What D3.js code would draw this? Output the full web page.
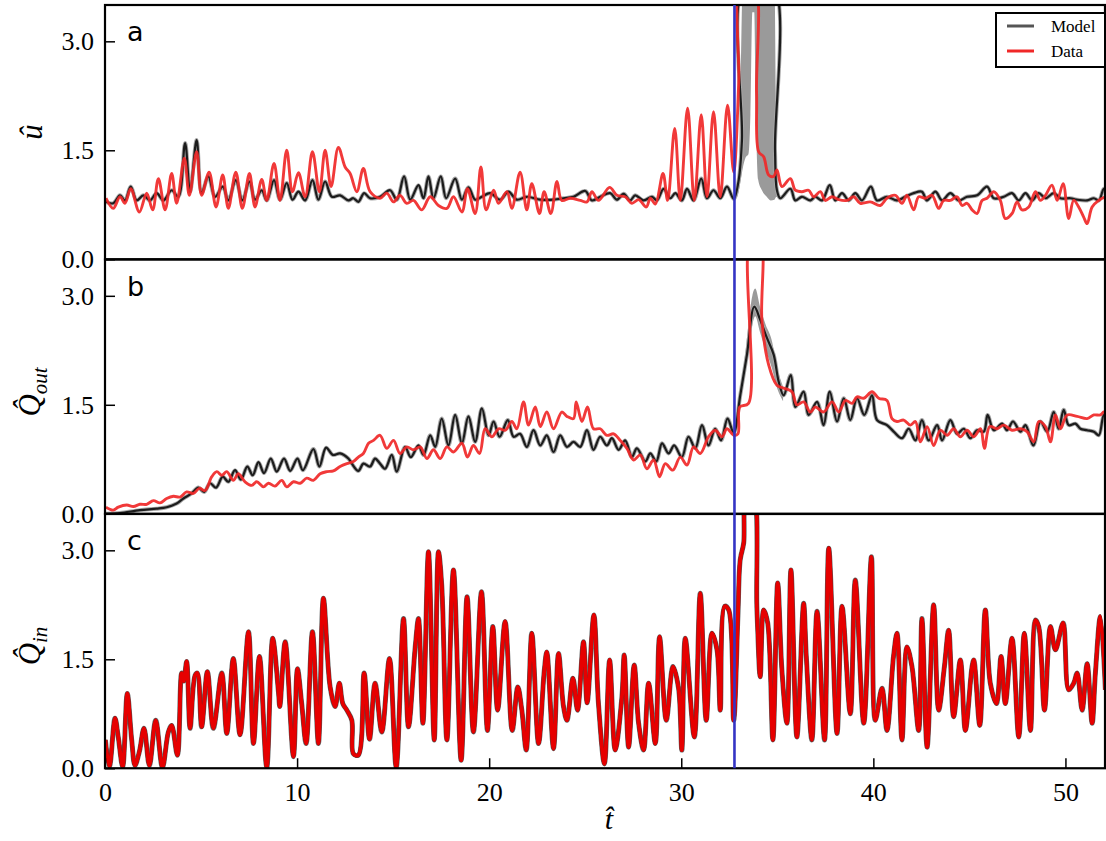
<!DOCTYPE html>
<html>
<head>
<meta charset="utf-8">
<script src="https://cdn.jsdelivr.net/npm/d3@7"></script>
<style>
  body { margin: 0; background: #fff; }
  svg { display: block; }
</style>
</head>
<body>
<svg id="chart" width="1106" height="841"></svg>
<script>
// ---- Tick labels, legend and panel labels ----
const tickValuesY = [0, 1.5, 3.0];
const tickValuesT = [0, 10, 20, 30, 40, 50];
const legendLabels = ["Model", "Data"];
const panelLetters = ["a", "b", "c"];
const onsetT = 32.77;   // marked event time (vertical line)

// ---- Panel a: velocity u-hat, [t, value] ----
const uModel = [[0.05,0.79],[0.43,0.77],[0.78,0.88],[1.04,0.81],[1.34,1.0],[1.65,0.81],[2.0,0.88],[2.34,0.81],[2.69,0.91],[3.04,0.81],[3.47,0.95],[3.82,0.86],[4.17,1.6],[4.43,0.93],[4.77,1.64],[5.03,0.91],[5.38,1.14],[5.73,0.86],[6.13,1.0],[6.42,0.81],[6.81,1.09],[7.15,0.81],[7.52,1.07],[7.81,0.82],[8.16,0.95],[8.42,0.81],[8.8,1.09],[9.11,0.82],[9.46,1.05],[9.76,0.82],[10.07,0.93],[10.42,0.81],[10.8,1.09],[11.11,0.82],[11.46,1.07],[11.81,0.86],[12.24,0.88],[12.67,0.81],[12.93,0.84],[13.19,0.79],[13.49,0.91],[13.8,0.84],[14.32,0.86],[14.84,0.95],[15.19,0.82],[15.57,1.14],[15.89,0.82],[16.32,1.02],[16.58,0.84],[16.84,1.14],[17.1,0.84],[17.48,1.14],[17.76,0.84],[18.23,1.11],[18.58,0.82],[18.92,0.99],[19.27,0.82],[19.62,0.86],[20.05,0.91],[20.57,0.82],[21.0,0.93],[21.44,0.82],[21.96,0.86],[22.66,0.82],[23.35,0.82],[23.87,0.84],[24.39,0.86],[25.0,0.94],[25.35,0.81],[25.78,0.86],[26.3,0.91],[26.65,0.82],[27.0,0.9],[27.34,0.81],[27.6,0.88],[28.04,0.81],[28.48,0.86],[28.73,0.81],[29.08,0.97],[29.43,0.84],[29.69,0.91],[30.03,0.81],[30.3,0.97],[30.64,0.81],[31.04,1.11],[31.34,0.84],[31.68,0.95],[32.03,0.84],[32.38,1.0],[32.73,0.83],[32.99,1.09],[33.16,1.64],[33.3,3.8],[34.75,3.8],[34.88,1.5],[34.98,0.95],[35.16,0.84],[35.68,0.97],[35.94,0.81],[36.28,0.86],[36.72,0.81],[36.98,0.86],[37.33,0.81],[37.73,1.02],[38.02,0.81],[38.37,0.91],[38.72,0.81],[39.06,0.91],[39.41,0.81],[39.87,1.0],[40.19,0.81],[40.71,0.86],[41.23,0.81],[41.66,0.86],[42.1,0.91],[42.53,0.93],[42.79,0.81],[43.23,0.93],[43.58,0.81],[44.01,0.91],[44.44,0.81],[44.88,0.86],[45.4,0.88],[45.92,1.0],[46.27,0.84],[46.79,0.86],[47.22,0.91],[47.57,0.81],[47.92,0.91],[48.26,0.81],[48.61,0.91],[48.96,0.84],[49.39,0.91],[49.74,0.84],[50.26,0.84],[50.6,0.82],[51.13,0.81],[51.48,0.84],[51.74,0.81],[52.0,0.97],[52.17,0.91]];

const uData = [[0.05,0.84],[0.43,0.7],[0.78,0.86],[1.04,0.77],[1.34,0.97],[1.79,0.65],[2.17,0.91],[2.48,0.68],[2.78,1.11],[3.13,0.68],[3.47,1.18],[3.73,0.77],[4.13,1.39],[4.39,0.88],[4.77,1.48],[5.03,0.88],[5.42,1.2],[5.78,0.72],[6.13,1.16],[6.42,0.7],[6.81,1.2],[7.15,0.7],[7.52,1.18],[7.81,0.72],[8.16,1.1],[8.42,0.81],[8.8,1.32],[9.11,0.81],[9.46,1.5],[9.76,0.93],[10.07,1.19],[10.42,0.86],[10.8,1.48],[11.16,0.93],[11.46,1.5],[11.77,1.0],[12.15,1.54],[12.5,1.27],[12.76,1.18],[13.11,0.93],[13.45,1.25],[13.8,0.93],[14.32,0.84],[14.67,0.91],[15.02,0.79],[15.36,0.88],[15.71,0.77],[16.06,0.81],[16.49,0.68],[16.93,0.86],[17.36,0.74],[17.8,0.7],[18.14,0.86],[18.58,0.65],[18.87,0.97],[19.27,0.63],[19.57,1.27],[19.84,0.68],[20.23,0.95],[20.49,0.77],[20.92,0.93],[21.18,0.7],[21.61,1.2],[21.96,0.68],[22.22,1.04],[22.62,0.63],[22.86,0.93],[23.21,0.63],[23.53,1.07],[23.78,0.81],[24.22,0.84],[24.74,0.81],[25.09,0.79],[25.35,0.93],[25.69,0.81],[26.27,0.99],[26.65,0.88],[27.08,0.86],[27.43,0.77],[27.78,0.82],[28.18,0.72],[28.39,0.84],[28.65,0.76],[29.05,1.18],[29.29,0.81],[29.66,1.8],[29.95,0.81],[30.33,2.08],[30.68,0.81],[31.04,1.99],[31.34,0.86],[31.68,2.03],[32.03,0.86],[32.41,2.12],[32.73,1.2],[32.99,2.42],[33.12,3.8],[33.78,3.8],[33.92,2.3],[34.03,1.48],[34.29,1.41],[34.55,1.16],[34.81,1.14],[34.98,1.23],[35.24,1.0],[35.68,1.11],[35.94,0.95],[36.28,0.93],[36.63,0.95],[36.89,0.86],[37.24,0.93],[37.5,0.81],[37.85,0.86],[38.2,0.82],[38.63,0.81],[38.98,0.86],[39.32,0.77],[39.84,0.79],[40.36,0.74],[40.71,0.84],[41.15,0.88],[41.49,0.77],[41.75,0.88],[42.1,0.68],[42.36,0.86],[42.71,0.84],[43.06,0.88],[43.4,0.7],[43.66,0.81],[44.01,0.81],[44.36,0.86],[44.62,0.74],[44.88,0.77],[45.14,0.68],[45.4,0.63],[45.66,0.81],[45.92,0.84],[46.27,0.93],[46.61,0.81],[46.87,0.56],[47.22,0.63],[47.48,0.79],[47.74,0.68],[48.09,0.72],[48.44,0.93],[48.7,0.81],[48.96,0.88],[49.3,1.02],[49.57,0.81],[49.88,1.04],[50.17,0.56],[50.43,0.81],[50.69,0.72],[50.95,0.58],[51.13,0.49],[51.39,0.72],[51.74,0.81],[52.08,0.86]];

// model spread around the surge: [t, low, high]
const uBand = [[32.88,0.84,0.9],[33.0,0.95,1.3],[33.1,1.1,2.6],[33.2,1.25,3.8],[33.35,1.4,3.8],[33.5,1.45,3.8],[33.6,2.0,3.8],[33.7,3.4,3.8],[33.8,3.4,3.8],[33.9,1.8,3.8],[34.0,1.1,3.8],[34.2,0.95,3.8],[34.45,0.86,3.8],[34.65,0.81,3.8],[34.85,0.82,3.8],[34.95,0.86,1.6],[35.05,0.84,0.95]];

// ---- Panel b: outflow Q-hat_out ----
const qOutModel = [[0.05,0.0],[0.78,0.01],[1.82,0.05],[2.69,0.07],[3.21,0.09],[3.73,0.14],[4.08,0.21],[4.51,0.28],[4.86,0.36],[5.16,0.30],[5.47,0.42],[5.78,0.36],[6.13,0.51],[6.42,0.44],[6.77,0.6],[7.07,0.47],[7.41,0.65],[7.69,0.53],[7.99,0.71],[8.28,0.56],[8.63,0.76],[8.94,0.58],[9.32,0.76],[9.64,0.59],[10.02,0.76],[10.3,0.6],[10.85,0.89],[11.16,0.65],[11.51,0.91],[11.86,0.81],[12.24,0.83],[12.67,0.76],[12.85,0.69],[13.19,0.59],[13.45,0.69],[13.8,0.65],[14.06,0.76],[14.32,0.69],[14.58,0.62],[14.93,0.81],[15.19,0.58],[15.62,0.92],[15.92,0.78],[16.32,0.94],[16.58,0.81],[16.93,1.08],[17.19,0.92],[17.53,1.31],[17.88,0.94],[18.23,1.36],[18.58,0.97],[18.92,1.34],[19.27,0.99],[19.62,1.45],[19.97,1.08],[20.23,1.27],[20.54,1.06],[20.97,1.29],[21.27,1.06],[21.61,1.1],[21.96,0.92],[22.31,1.15],[22.66,0.94],[23.0,1.08],[23.35,0.85],[23.7,1.08],[24.05,0.92],[24.39,0.99],[24.74,0.92],[25.09,1.15],[25.43,0.88],[25.78,1.06],[26.13,0.94],[26.39,1.04],[26.74,0.88],[27.08,1.01],[27.43,0.78],[27.69,0.9],[28.13,0.72],[28.39,0.83],[28.7,0.72],[29.0,0.97],[29.34,0.83],[29.63,0.94],[30.03,0.78],[30.38,1.06],[30.73,0.9],[31.08,1.22],[31.42,0.94],[31.77,1.17],[32.07,1.01],[32.41,1.31],[32.73,1.11],[33.07,1.63],[33.42,2.19],[33.8,2.85],[34.11,2.67],[34.46,2.42],[34.81,2.19],[35.07,1.82],[35.33,1.63],[35.7,1.91],[35.94,1.47],[36.37,1.68],[36.63,1.36],[37.07,1.54],[37.41,1.22],[37.73,1.68],[38.11,1.27],[38.46,1.59],[38.8,1.29],[39.15,1.59],[39.53,1.36],[39.93,1.63],[40.19,1.29],[40.71,1.22],[41.06,1.13],[41.49,1.04],[41.84,1.17],[42.19,1.01],[42.53,1.29],[42.88,1.01],[43.32,1.22],[43.58,1.01],[44.01,1.29],[44.36,1.1],[44.71,1.17],[45.05,1.04],[45.4,1.15],[45.75,1.13],[45.95,1.36],[46.27,1.15],[46.7,1.24],[46.96,1.15],[47.27,1.27],[47.66,1.13],[47.92,1.22],[48.33,0.94],[48.7,1.27],[49.05,1.13],[49.39,1.4],[49.65,1.17],[49.91,1.43],[50.17,1.22],[50.52,1.24],[50.78,1.17],[51.13,1.15],[51.48,1.13],[51.74,1.08],[52.0,1.36],[52.17,1.31]];

const qOutData = [[0.05,0.09],[0.43,0.05],[0.69,0.09],[1.13,0.12],[1.48,0.1],[1.82,0.13],[2.17,0.13],[2.52,0.18],[2.86,0.15],[3.21,0.21],[3.56,0.24],[3.91,0.23],[4.25,0.3],[4.6,0.28],[4.91,0.35],[5.21,0.32],[5.56,0.51],[5.82,0.58],[6.08,0.53],[6.34,0.58],[6.68,0.46],[6.94,0.55],[7.29,0.44],[7.64,0.39],[7.9,0.44],[8.25,0.37],[8.51,0.42],[8.85,0.38],[9.2,0.46],[9.46,0.37],[9.81,0.44],[10.16,0.42],[10.5,0.49],[10.85,0.46],[11.2,0.55],[11.55,0.58],[11.89,0.59],[12.24,0.65],[12.59,0.69],[12.93,0.72],[13.19,0.78],[13.45,0.83],[13.72,0.97],[13.98,1.01],[14.32,1.08],[14.67,0.9],[15.02,1.01],[15.36,0.83],[15.71,0.92],[16.06,0.88],[16.41,0.92],[16.76,0.76],[17.1,0.88],[17.45,0.76],[17.8,0.92],[18.14,0.85],[18.58,0.97],[18.87,0.78],[19.18,0.94],[19.5,0.83],[19.79,1.17],[20.14,1.06],[20.49,1.17],[20.84,1.15],[21.18,1.27],[21.44,1.17],[21.79,1.54],[22.05,1.22],[22.4,1.47],[22.66,1.2],[23.0,1.4],[23.35,1.17],[23.78,1.4],[24.05,1.34],[24.39,1.31],[24.53,1.54],[24.83,1.27],[25.12,1.47],[25.43,1.17],[25.78,1.17],[26.13,1.08],[26.48,1.1],[26.82,1.01],[27.17,0.9],[27.52,0.74],[27.87,0.81],[28.21,0.62],[28.56,0.74],[28.87,0.51],[29.17,0.69],[29.56,0.6],[29.95,0.78],[30.3,0.67],[30.64,0.92],[30.99,0.83],[31.42,1.06],[31.77,1.15],[32.12,1.06],[32.38,1.17],[32.73,1.08],[32.95,1.1],[33.05,1.47],[33.5,1.52],[33.62,3.8],[34.1,3.8],[34.2,2.65],[34.55,2.05],[34.98,1.77],[35.33,1.73],[35.76,1.68],[36.02,1.5],[36.37,1.54],[36.72,1.4],[36.98,1.47],[37.41,1.4],[37.85,1.54],[38.2,1.4],[38.55,1.56],[38.89,1.52],[39.15,1.61],[39.5,1.59],[39.93,1.68],[40.28,1.59],[40.71,1.56],[40.97,1.31],[41.23,1.27],[41.58,1.29],[41.93,1.22],[42.19,1.27],[42.45,0.99],[42.8,1.2],[43.14,0.94],[43.49,1.15],[43.84,1.08],[44.18,1.17],[44.53,1.06],[44.88,1.15],[45.23,1.06],[45.58,1.17],[45.78,0.9],[46.06,1.2],[46.44,1.17],[46.79,1.22],[47.22,1.15],[47.66,1.17],[48.0,1.13],[48.35,0.99],[48.61,1.27],[48.96,1.2],[49.22,0.99],[49.48,1.36],[49.74,1.17],[50.09,1.36],[50.61,1.34],[51.13,1.31],[51.48,1.36],[51.82,1.36],[52.0,1.4],[52.17,1.38]];

const qOutBand = [[33.1,1.55,1.72],[33.4,2.05,2.35],[33.7,2.6,3.0],[33.85,2.72,3.1],[34.1,2.5,2.85],[34.4,2.25,2.6],[34.7,2.02,2.4],[35.0,1.72,2.0],[35.3,1.55,1.75]];

// ---- Panel c: inflow Q-hat_in ----
const qInData = [[0.02,0.39],[0.23,0.02],[0.52,0.69],[0.69,0.43],[0.92,0.02],[1.16,1.03],[1.39,0.39],[1.56,0.04],[1.79,0.23],[2.03,0.55],[2.31,0.04],[2.64,0.66],[2.99,0.01],[3.3,0.5],[3.47,0.59],[3.77,0.18],[3.99,1.31],[4.1,1.2],[4.25,1.47],[4.43,0.55],[4.69,1.28],[4.81,1.31],[5.03,0.57],[5.33,1.33],[5.64,0.55],[6.08,1.31],[6.34,0.48],[6.68,1.51],[7.03,0.46],[7.47,1.88],[7.73,0.34],[8.04,1.54],[8.42,0.01],[8.73,1.79],[9.03,1.05],[9.1,0.85],[9.38,1.74],[9.81,0.16],[10.02,1.37],[10.24,0.89],[10.47,0.34],[10.8,1.88],[11.11,0.34],[11.37,2.34],[11.72,1.12],[11.98,0.85],[12.2,1.17],[12.38,0.89],[12.59,0.8],[12.85,0.66],[12.93,0.2],[13.19,0.18],[13.49,1.31],[13.77,0.4],[14.06,1.17],[14.41,0.5],[14.81,1.51],[15.16,0.01],[15.54,2.06],[15.8,0.57],[16.15,1.67],[16.32,2.06],[16.55,0.62],[16.84,2.98],[17.14,0.39],[17.36,2.98],[17.53,2.52],[17.8,0.39],[18.14,2.73],[18.54,0.11],[18.85,2.36],[19.18,0.5],[19.6,2.43],[19.91,0.52],[20.19,1.95],[20.44,0.8],[20.83,2.02],[21.2,0.52],[21.49,1.12],[21.7,0.8],[21.93,0.25],[22.22,1.86],[22.57,0.34],[22.87,1.35],[23.0,1.6],[23.35,0.27],[23.61,1.58],[23.87,0.85],[24.05,0.66],[24.36,1.24],[24.6,0.8],[24.91,1.74],[25.1,0.9],[25.45,2.11],[25.69,0.89],[26.0,0.06],[26.27,1.49],[26.56,0.25],[26.91,0.98],[27.03,1.56],[27.26,0.29],[27.55,1.42],[27.78,0.62],[28.04,0.25],[28.3,1.17],[28.65,0.34],[28.87,1.81],[29.22,0.66],[29.57,1.4],[29.86,1.1],[30.03,0.25],[30.21,1.79],[30.68,0.43],[30.99,2.41],[31.3,0.66],[31.6,1.86],[31.86,1.63],[32.03,0.8],[32.26,2.23],[32.47,2.18],[32.73,0.66],[32.95,2.1],[33.07,2.87],[33.25,3.1],[33.4,3.8],[33.72,3.8],[33.94,2.18],[34.11,1.26],[34.29,2.18],[34.5,2.0],[34.77,0.39],[35.02,2.55],[35.24,1.35],[35.5,0.62],[35.71,2.73],[36.02,0.43],[36.37,2.27],[36.51,1.54],[36.8,0.39],[37.07,2.16],[37.46,0.39],[37.68,3.03],[38.11,0.48],[38.37,2.23],[38.8,0.75],[39.06,2.59],[39.5,0.62],[39.9,2.91],[40.1,0.66],[40.45,1.1],[40.71,0.52],[41.05,1.54],[41.23,1.86],[41.49,0.39],[41.75,1.67],[42.01,1.4],[42.36,0.52],[42.53,2.06],[42.8,0.29],[43.14,2.25],[43.4,0.8],[43.7,1.4],[43.92,1.9],[44.18,0.71],[44.53,1.49],[44.79,0.52],[45.14,1.4],[45.23,1.49],[45.54,0.59],[45.83,2.18],[46.09,1.17],[46.41,0.89],[46.65,1.54],[46.87,0.89],[47.22,1.79],[47.57,0.43],[47.86,1.86],[48.18,0.52],[48.44,2.04],[48.61,1.95],[48.91,0.8],[49.22,1.95],[49.48,1.63],[49.88,2.0],[50.17,1.08],[50.43,1.17],[50.61,1.31],[50.87,0.8],[51.13,1.44],[51.39,0.62],[51.56,1.31],[51.82,2.09],[52.08,1.08]];
// the fitted inflow follows the measured inflow to within line width
const qInModel = qInData;

// ---- Layout ----
const svg = d3.select("#chart");
const plotLeft = 105, plotRight = 1105;
const panelTops = [5, 259.5, 514];
const panelH = 254.25;
const x = d3.scaleLinear().domain([0, 52.06]).range([plotLeft, plotRight]);

const panels = [
  { model: uModel, data: uData, band: uBand, thin: true },
  { model: qOutModel, data: qOutData, band: qOutBand, thin: true },
  { model: qInModel, data: qInData, band: null, thin: false }
];

const serif = "'Liberation Serif', 'Times New Roman', serif";

function styleTickText(sel) {
  sel.selectAll("text")
    .style("font-family", serif)
    .style("font-size", "26px")
    .style("fill", "#000");
}

panels.forEach((p, i) => {
  const top = panelTops[i];
  const y = d3.scaleLinear().domain([0, 3.5]).range([top + panelH, top]);
  const g = svg.append("g");

  const clipId = "clip" + i;
  svg.append("clipPath").attr("id", clipId)
    .append("rect").attr("x", plotLeft).attr("y", top)
    .attr("width", plotRight - plotLeft).attr("height", panelH);

  const plot = g.append("g").attr("clip-path", `url(#${clipId})`);
  const line = d3.line().x(d => x(d[0])).y(d => y(d[1])).curve(d3.curveCatmullRom.alpha(0.5));

  if (p.band) {
    const area = d3.area().x(d => x(d[0])).y0(d => y(d[1])).y1(d => y(d[2])).curve(d3.curveMonotoneX);
    plot.append("path").datum(p.band).attr("d", area).attr("fill", "#9a9a9a");
  }
  // model spread halo, model line, data line
  plot.append("path").datum(p.model).attr("d", line)
    .attr("fill", "none").attr("stroke", p.thin ? "#a8a8a8" : "#6e6e6e")
    .attr("stroke-width", p.thin ? 4 : 5).attr("stroke-linejoin", "round");
  plot.append("path").datum(p.model).attr("d", line)
    .attr("fill", "none").attr("stroke", "#1c1c1c")
    .attr("stroke-width", p.thin ? 2.2 : 3.6).attr("stroke-linejoin", "round");
  plot.append("path").datum(p.data).attr("d", line)
    .attr("fill", "none").attr("stroke", p.thin ? "#f02828" : "#e60000")
    .attr("stroke-opacity", p.thin ? 0.92 : 1)
    .attr("stroke-width", p.thin ? 2.9 : 3.8).attr("stroke-linejoin", "round");

  // y axis with inward ticks
  const yAxis = d3.axisLeft(y).tickValues(tickValuesY).tickFormat(d3.format(".1f"))
    .tickSize(-10).tickPadding(11);
  const ya = g.append("g").attr("transform", `translate(${plotLeft},0)`).call(yAxis);
  ya.select(".domain").remove();
  ya.selectAll("line").attr("stroke", "#000").attr("stroke-width", 1.5);
  styleTickText(ya);

  // frame
  g.append("rect").attr("x", plotLeft).attr("y", top)
    .attr("width", plotRight - plotLeft).attr("height", panelH)
    .attr("fill", "none").attr("stroke", "#000").attr("stroke-width", 2.2);

  // panel letter
  g.append("text").attr("x", plotLeft + 22).attr("y", top + 36)
    .style("font-family", "'DejaVu Sans', sans-serif").style("font-size", "27px")
    .text(panelLetters[i]);

  if (i === 2) {
    const xAxis = d3.axisBottom(x).tickValues(tickValuesT).tickFormat(d3.format("d"))
      .tickSize(-10).tickPadding(14);
    const xa = g.append("g").attr("transform", `translate(0,${top + panelH})`).call(xAxis);
    xa.select(".domain").remove();
    xa.selectAll("line").attr("stroke", "#000").attr("stroke-width", 1.5);
    styleTickText(xa);
  }
});

// y-axis titles
function yTitle(cx, cy, main, sub) {
  const t = svg.append("text")
    .attr("transform", `translate(${cx},${cy}) rotate(-90)`)
    .attr("text-anchor", "middle")
    .style("font-family", serif).style("font-style", "italic").style("font-size", "31px");
  t.append("tspan").text(main);
  if (sub) t.append("tspan").attr("dy", 7).style("font-size", "21px").text(sub);
}
yTitle(42, 132, "\u00fb", null);
yTitle(40, 392, "Q\u0302", "out");
yTitle(40, 646, "Q\u0302", "in");

// x-axis title
svg.append("text").attr("x", 609).attr("y", 829).attr("text-anchor", "middle")
  .style("font-family", serif).style("font-style", "italic").style("font-size", "30px")
  .text("t\u0302");

// event marker across all panels
svg.append("line")
  .attr("x1", x(onsetT)).attr("x2", x(onsetT))
  .attr("y1", panelTops[0]).attr("y2", panelTops[2] + panelH)
  .attr("stroke", "#3434c4").attr("stroke-width", 2.6);

// legend
const lg = svg.append("g");
lg.append("rect").attr("x", 996).attr("y", 13).attr("width", 109).attr("height", 54)
  .attr("fill", "#fff").attr("stroke", "#000").attr("stroke-width", 2);
const legendColors = ["#555", "#f02828"];
legendLabels.forEach((lab, k) => {
  const ly = 26 + k * 25;
  lg.append("line").attr("x1", 1007).attr("x2", 1034).attr("y1", ly).attr("y2", ly)
    .attr("stroke", legendColors[k]).attr("stroke-width", 3);
  lg.append("text").attr("x", 1051).attr("y", ly + 6)
    .style("font-family", serif).style("font-size", "17px").text(lab);
});
</script>
</body>
</html>
